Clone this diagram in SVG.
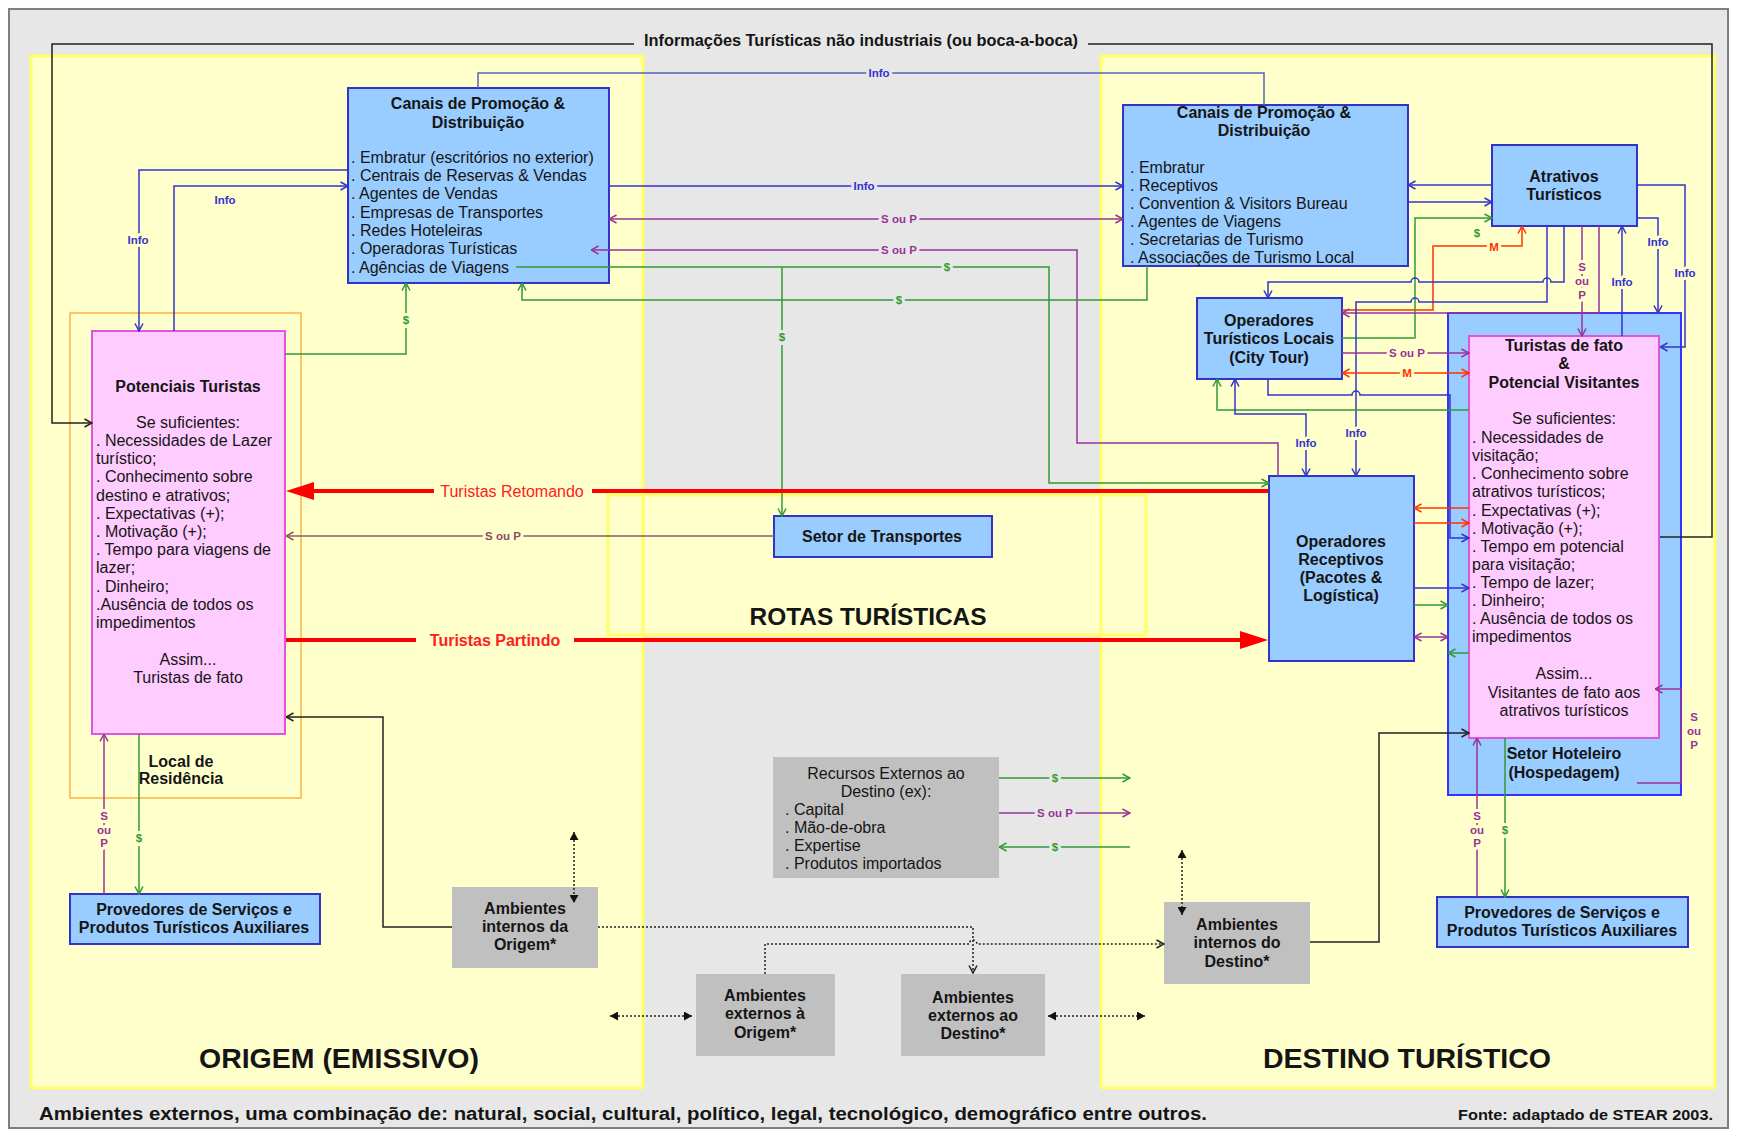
<svg xmlns="http://www.w3.org/2000/svg" width="1737" height="1134" viewBox="0 0 1737 1134">
<style>
.t{font-family:"Liberation Sans",Arial,sans-serif;font-size:16px;fill:#151515}
.b{font-weight:bold}
.m{text-anchor:middle}
.lb{font-family:"Liberation Sans",Arial,sans-serif;font-size:11.5px;font-weight:bold;text-anchor:middle;paint-order:stroke;stroke-width:6;stroke-linejoin:round}
.ly{stroke:#ffffcc}.lg{stroke:#e7e7e7}
.ci{fill:#3333cc}.cg{fill:#339933}.cp{fill:#993399}.cr{fill:#ff3300}
.c{fill:none;stroke-width:1.5}
.bl{stroke:#3333cc}.gr{stroke:#339933}.pu{stroke:#993399}.rd{stroke:#ff3300}.k{stroke:#222}.br{stroke:#8a5a6a}
.d{fill:none;stroke:#222;stroke-width:1.5;stroke-dasharray:2 2}
.blue{fill:#99ccff;stroke:#3333cc;stroke-width:2}
.pink{fill:#ffccff;stroke:#e055e0;stroke-width:2}
.gray{fill:#c0c0c0}
.yel{fill:#ffffcc}
.yb{fill:none;stroke:#ffff66;stroke-width:3}
</style>
<defs>
<marker id="mb" viewBox="0 0 9 10" refX="8.5" refY="5" markerWidth="9" markerHeight="10" markerUnits="userSpaceOnUse" orient="auto-start-reverse"><path d="M1,1 L8.5,5 L1,9" fill="none" stroke="#3333cc" stroke-width="1.5"/></marker>
<marker id="mg" viewBox="0 0 9 10" refX="8.5" refY="5" markerWidth="9" markerHeight="10" markerUnits="userSpaceOnUse" orient="auto-start-reverse"><path d="M1,1 L8.5,5 L1,9" fill="none" stroke="#339933" stroke-width="1.5"/></marker>
<marker id="mp" viewBox="0 0 9 10" refX="8.5" refY="5" markerWidth="9" markerHeight="10" markerUnits="userSpaceOnUse" orient="auto-start-reverse"><path d="M1,1 L8.5,5 L1,9" fill="none" stroke="#993399" stroke-width="1.5"/></marker>
<marker id="mr" viewBox="0 0 9 10" refX="8.5" refY="5" markerWidth="9" markerHeight="10" markerUnits="userSpaceOnUse" orient="auto-start-reverse"><path d="M1,1 L8.5,5 L1,9" fill="none" stroke="#ff3300" stroke-width="1.5"/></marker>
<marker id="mk" viewBox="0 0 9 10" refX="8.5" refY="5" markerWidth="9" markerHeight="10" markerUnits="userSpaceOnUse" orient="auto-start-reverse"><path d="M1,1 L8.5,5 L1,9" fill="none" stroke="#222" stroke-width="1.5"/></marker>
<marker id="mn" viewBox="0 0 9 10" refX="8.5" refY="5" markerWidth="9" markerHeight="10" markerUnits="userSpaceOnUse" orient="auto-start-reverse"><path d="M1,1 L8.5,5 L1,9" fill="none" stroke="#8a5a6a" stroke-width="1.5"/></marker>
<marker id="mf" viewBox="0 0 8 9" refX="8" refY="4.5" markerWidth="8" markerHeight="9" markerUnits="userSpaceOnUse" orient="auto-start-reverse"><path d="M0,0 L8,4.5 L0,9Z" fill="#111"/></marker>
</defs>
<rect x="0" y="0" width="1737" height="1134" fill="#ffffff"/>
<rect x="9" y="9" width="1719" height="1119" fill="#e7e7e7" stroke="#7f7f7f" stroke-width="2"/>

<g id="regions">
<rect class="yel" x="31" y="56" width="612" height="1032"/>
<rect class="yel" x="1101" y="56" width="614" height="1032"/>
<rect class="yel" x="608" y="495" width="538" height="140"/>
<rect class="yb" x="31" y="56" width="612" height="1032"/>
<rect class="yb" x="1101" y="56" width="614" height="1032"/>
<rect class="yb" x="608" y="495" width="538" height="140" stroke-width="1.5"/>
<text class="t b m" x="868" y="625" style="font-size:24px" textLength="237" lengthAdjust="spacingAndGlyphs">ROTAS TURÍSTICAS</text>
<text class="t b m" x="339" y="1068" style="font-size:28px" textLength="280" lengthAdjust="spacingAndGlyphs">ORIGEM (EMISSIVO)</text>
<text class="t b m" x="1407" y="1068" style="font-size:28px" textLength="288" lengthAdjust="spacingAndGlyphs">DESTINO TURÍSTICO</text>
<text class="t b" x="39" y="1120" style="font-size:18px" textLength="1168" lengthAdjust="spacingAndGlyphs">Ambientes externos, uma combinação de: natural, social, cultural, político, legal, tecnológico, demográfico entre outros.</text>
<text class="t b" x="1458" y="1120" style="font-size:15px" textLength="255" lengthAdjust="spacingAndGlyphs">Fonte: adaptado de STEAR 2003.</text>
<text class="t b m" x="861" y="46" style="font-size:16px" textLength="434" lengthAdjust="spacingAndGlyphs">Informações Turísticas não industriais (ou boca-a-boca)</text>
</g>

<g id="local-residencia">
<rect x="70" y="313" width="231" height="485" fill="none" stroke="#ffb040" stroke-width="1.5"/>
<text class="t b m" x="181" y="767">Local de</text>
<text class="t b m" x="181" y="784">Residência</text>
</g>

<g id="canais-origem">
<rect class="blue" x="348" y="88" width="261" height="195"/>
<text class="t b m" x="478" y="109">Canais de Promoção &amp;</text>
<text class="t b m" x="478" y="128">Distribuição</text>
<text class="t" x="351" y="163">. Embratur (escritórios no exterior)</text>
<text class="t" x="351" y="181">. Centrais de Reservas &amp; Vendas</text>
<text class="t" x="351" y="199">. Agentes de Vendas</text>
<text class="t" x="351" y="218">. Empresas de Transportes</text>
<text class="t" x="351" y="236">. Redes Hoteleiras</text>
<text class="t" x="351" y="254">. Operadoras Turísticas</text>
<text class="t" x="351" y="273">. Agências de Viagens</text>
</g>

<g id="potenciais-turistas">
<rect class="pink" x="92" y="331" width="193" height="403"/>
<text class="t b m" x="188" y="392">Potenciais Turistas</text>
<text class="t m" x="188" y="428">Se suficientes:</text>
<text class="t" x="96" y="446">. Necessidades de Lazer</text>
<text class="t" x="96" y="464">turístico;</text>
<text class="t" x="96" y="482">. Conhecimento sobre</text>
<text class="t" x="96" y="501">destino e atrativos;</text>
<text class="t" x="96" y="519">. Expectativas (+);</text>
<text class="t" x="96" y="537">. Motivação (+);</text>
<text class="t" x="96" y="555">. Tempo para viagens de</text>
<text class="t" x="96" y="573">lazer;</text>
<text class="t" x="96" y="592">. Dinheiro;</text>
<text class="t" x="96" y="610">.Ausência de todos os</text>
<text class="t" x="96" y="628">impedimentos</text>
<text class="t m" x="188" y="665">Assim...</text>
<text class="t m" x="188" y="683">Turistas de fato</text>
</g>

<g id="provedores-origem">
<rect class="blue" x="70" y="894" width="250" height="50"/>
<text class="t b m" x="194" y="915">Provedores de Serviços e</text>
<text class="t b m" x="194" y="933">Produtos Turísticos Auxiliares</text>
</g>

<g id="setor-transportes">
<rect class="blue" x="774" y="516" width="218" height="41"/>
<text class="t b m" x="882" y="542">Setor de Transportes</text>
</g>

<g id="recursos-externos">
<rect class="gray" x="773" y="757" width="226" height="121"/>
<text class="t m" x="886" y="779">Recursos Externos ao</text>
<text class="t m" x="886" y="797">Destino (ex):</text>
<text class="t" x="785" y="815">. Capital</text>
<text class="t" x="785" y="833">. Mão-de-obra</text>
<text class="t" x="785" y="851">. Expertise</text>
<text class="t" x="785" y="869">. Produtos importados</text>
</g>

<g id="amb-internos-origem">
<rect class="gray" x="452" y="887" width="146" height="81"/>
<text class="t b m" x="525" y="914">Ambientes</text>
<text class="t b m" x="525" y="932">internos da</text>
<text class="t b m" x="525" y="950">Origem*</text>
</g>

<g id="amb-externos-origem">
<rect class="gray" x="696" y="974" width="139" height="82"/>
<text class="t b m" x="765" y="1001">Ambientes</text>
<text class="t b m" x="765" y="1019">externos à</text>
<text class="t b m" x="765" y="1038">Origem*</text>
</g>

<g id="amb-externos-destino">
<rect class="gray" x="901" y="974" width="144" height="82"/>
<text class="t b m" x="973" y="1003">Ambientes</text>
<text class="t b m" x="973" y="1021">externos ao</text>
<text class="t b m" x="973" y="1039">Destino*</text>
</g>

<g id="amb-internos-destino">
<rect class="gray" x="1164" y="902" width="146" height="82"/>
<text class="t b m" x="1237" y="930">Ambientes</text>
<text class="t b m" x="1237" y="948">internos do</text>
<text class="t b m" x="1237" y="967">Destino*</text>
</g>

<g id="canais-destino">
<rect class="blue" x="1123" y="105" width="285" height="161"/>
<text class="t b m" x="1264" y="118">Canais de Promoção &amp;</text>
<text class="t b m" x="1264" y="136">Distribuição</text>
<text class="t" x="1130" y="173">. Embratur</text>
<text class="t" x="1130" y="191">. Receptivos</text>
<text class="t" x="1130" y="209">. Convention &amp; Visitors Bureau</text>
<text class="t" x="1130" y="227">. Agentes de Viagens</text>
<text class="t" x="1130" y="245">. Secretarias de Turismo</text>
<text class="t" x="1130" y="263">. Associações de Turismo Local</text>
</g>

<g id="atrativos">
<rect class="blue" x="1492" y="145" width="145" height="81"/>
<text class="t b m" x="1564" y="182">Atrativos</text>
<text class="t b m" x="1564" y="200">Turísticos</text>
</g>

<g id="operadores-locais">
<rect class="blue" x="1197" y="298" width="145" height="81"/>
<text class="t b m" x="1269" y="326">Operadores</text>
<text class="t b m" x="1269" y="344">Turísticos Locais</text>
<text class="t b m" x="1269" y="363">(City Tour)</text>
</g>

<g id="operadores-receptivos">
<rect class="blue" x="1269" y="476" width="145" height="185"/>
<text class="t b m" x="1341" y="547">Operadores</text>
<text class="t b m" x="1341" y="565">Receptivos</text>
<text class="t b m" x="1341" y="583">(Pacotes &amp;</text>
<text class="t b m" x="1341" y="601">Logística)</text>
</g>

<g id="setor-hoteleiro">
<rect x="1448" y="313" width="233" height="482" fill="#99ccff" stroke="#3333ff" stroke-width="2"/>
<text class="t b m" x="1564" y="759">Setor Hoteleiro</text>
<text class="t b m" x="1564" y="778">(Hospedagem)</text>
</g>

<g id="turistas-de-fato">
<rect class="pink" x="1469" y="336" width="190" height="402"/>
<text class="t b m" x="1564" y="351">Turistas de fato</text>
<text class="t b m" x="1564" y="369">&amp;</text>
<text class="t b m" x="1564" y="388">Potencial Visitantes</text>
<text class="t m" x="1564" y="424">Se suficientes:</text>
<text class="t" x="1472" y="443">. Necessidades de</text>
<text class="t" x="1472" y="461">visitação;</text>
<text class="t" x="1472" y="479">. Conhecimento sobre</text>
<text class="t" x="1472" y="497">atrativos turísticos;</text>
<text class="t" x="1472" y="516">. Expectativas (+);</text>
<text class="t" x="1472" y="534">. Motivação (+);</text>
<text class="t" x="1472" y="552">. Tempo em potencial</text>
<text class="t" x="1472" y="570">para visitação;</text>
<text class="t" x="1472" y="588">. Tempo de lazer;</text>
<text class="t" x="1472" y="606">. Dinheiro;</text>
<text class="t" x="1472" y="624">. Ausência de todos os</text>
<text class="t" x="1472" y="642">impedimentos</text>
<text class="t m" x="1564" y="679">Assim...</text>
<text class="t m" x="1564" y="698">Visitantes de fato aos</text>
<text class="t m" x="1564" y="716">atrativos turísticos</text>
</g>

<g id="provedores-destino">
<rect class="blue" x="1437" y="897" width="251" height="50"/>
<text class="t b m" x="1562" y="918">Provedores de Serviços e</text>
<text class="t b m" x="1562" y="936">Produtos Turísticos Auxiliares</text>
</g>

<g id="connectors">
<path class="c k" d="M634,44 H52 V423 H92" marker-end="url(#mk)"/>
<path class="c k" d="M1088,44 H1712 V537 H1660"/>
<path class="c k" d="M452,927 H383 V717 H286" marker-end="url(#mk)"/>
<path class="c k" d="M1310,942 H1379 V733 H1469" marker-end="url(#mk)"/>
<path class="c" stroke="#5a64b4" stroke-width="1.2" d="M478,88 V73 H1264 V105"/>
<text class="lb lg ci" x="879" y="77">Info</text>
<path class="c bl" d="M348,170 H139 V331" marker-end="url(#mb)"/>
<path class="c bl" d="M174,331 V186 H348" marker-end="url(#mb)"/>
<text class="lb ly ci" x="138" y="244">Info</text>
<text class="lb ly ci" x="225" y="204">Info</text>
<path class="c bl" d="M609,186 H1123" marker-end="url(#mb)"/>
<text class="lb lg ci" x="864" y="190">Info</text>
<path class="c pu" d="M609,219 H1123" marker-start="url(#mp)" marker-end="url(#mp)"/>
<text class="lb lg cp" x="899" y="223">S ou P</text>
<path class="c pu" d="M1278,476 V443 H1077 V250 H591" marker-end="url(#mp)"/>
<text class="lb lg cp" x="899" y="254">S ou P</text>
<path class="c gr" d="M516,267 H1049 V483 H1269" marker-end="url(#mg)"/>
<text class="lb lg cg" x="947" y="271">$</text>
<path class="c gr" d="M782,267 V516" marker-end="url(#mg)"/>
<text class="lb lg cg" x="782" y="341">$</text>
<path class="c gr" d="M1147,266 V300 H522 V283" marker-end="url(#mg)"/>
<text class="lb lg cg" x="899" y="304">$</text>
<path class="c gr" d="M285,354 H406 V283" marker-end="url(#mg)"/>
<text class="lb ly cg" x="406" y="324">$</text>
<path class="c br" d="M774,536 H286" marker-end="url(#mn)"/>
<text class="lb ly" style="fill:#8a4a6a" x="503" y="540">S ou P</text>
<path d="M313,491 H1268" fill="none" stroke="#ff0000" stroke-width="4"/>
<polygon points="286,491 314,482 314,500" fill="#ff0000"/>
<rect x="434" y="482" width="158" height="18" fill="#ffffcc"/>
<text class="t m" x="512" y="497" style="fill:#ff2020">Turistas Retomando</text>
<path d="M286,640 H1240" fill="none" stroke="#ff0000" stroke-width="4"/>
<polygon points="1268,640 1240,631 1240,649" fill="#ff0000"/>
<rect x="416" y="631" width="158" height="18" fill="#ffffcc"/>
<text class="t b m" x="495" y="646" style="fill:#ff2020">Turistas Partindo</text>
<path class="c pu" d="M104,894 V734" marker-end="url(#mp)"/>
<text class="lb ly cp" x="104" y="820">S</text>
<text class="lb ly cp" x="104" y="834">ou</text>
<text class="lb ly cp" x="104" y="847">P</text>
<path class="c gr" d="M139,734 V894" marker-end="url(#mg)"/>
<text class="lb ly cg" x="139" y="842">$</text>
<path class="c gr" d="M999,778 H1130" marker-end="url(#mg)"/>
<text class="lb lg cg" x="1055" y="782">$</text>
<path class="c pu" d="M999,813 H1130" marker-end="url(#mp)"/>
<text class="lb lg cp" x="1055" y="817">S ou P</text>
<path class="c gr" d="M1130,847 H999" marker-end="url(#mg)"/>
<text class="lb lg cg" x="1055" y="851">$</text>
<path class="d" d="M574,832 V903" marker-start="url(#mf)" marker-end="url(#mf)"/>
<path class="d" d="M1182,850 V915" marker-start="url(#mf)" marker-end="url(#mf)"/>
<path class="d" d="M610,1016 H692" marker-start="url(#mf)" marker-end="url(#mf)"/>
<path class="d" d="M1048,1016 H1145" marker-start="url(#mf)" marker-end="url(#mf)"/>
<path class="d" d="M598,927 H973 V973" marker-end="url(#mk)"/>
<path class="d" d="M765,974 V944 H969 a4,4 0 0 1 8,0 H1164" marker-end="url(#mk)"/>
<path class="c bl" d="M1492,185 H1408" marker-end="url(#mb)"/>
<path class="c bl" d="M1408,202 H1492" marker-end="url(#mb)"/>
<path class="c gr" d="M1342,338 H1415 V218 H1492" marker-end="url(#mg)"/>
<text class="lb cg" x="1477" y="237">$</text>
<path class="c rd" d="M1342,310 H1433 V246 H1522 V226" marker-end="url(#mr)"/>
<text class="lb ly cr" x="1494" y="251">M</text>
<path class="c pu" d="M1599,226 V313 H1342" marker-end="url(#mp)"/>
<path class="c bl" d="M1564,226 V282 H1551 a4,4 0 0 0 -8,0 H1419 a4,4 0 0 0 -8,0 H1268 V298" marker-end="url(#mb)"/>
<path class="c bl" d="M1547,226 V302 H1419 a4,4 0 0 0 -8,0 H1356 V476" marker-end="url(#mb)"/>
<text class="lb ly ci" x="1356" y="437">Info</text>
<path class="c pu" d="M1582,226 V336" marker-end="url(#mp)"/>
<text class="lb ly cp" x="1582" y="271">S</text>
<text class="lb ly cp" x="1582" y="285">ou</text>
<text class="lb ly cp" x="1582" y="299">P</text>
<path class="c bl" d="M1622,336 V226" marker-end="url(#mb)"/>
<text class="lb ly ci" x="1622" y="286">Info</text>
<path class="c bl" d="M1637,218 H1658 V313" marker-end="url(#mb)"/>
<text class="lb ly ci" x="1658" y="246">Info</text>
<path class="c bl" d="M1637,185 H1685 V347 H1660" marker-end="url(#mb)"/>
<text class="lb ly ci" x="1685" y="277">Info</text>
<path class="c pu" d="M1342,353 H1469" marker-end="url(#mp)"/>
<text class="lb ly cp" x="1407" y="357">S ou P</text>
<path class="c rd" d="M1342,373 H1469" marker-start="url(#mr)" marker-end="url(#mr)"/>
<text class="lb ly cr" x="1407" y="377">M</text>
<path class="c bl" d="M1268,379 V395 H1352 a4,4 0 0 1 8,0 H1450 V538 H1469" marker-end="url(#mb)"/>
<path class="c gr" d="M1469,410 H1217 V379" marker-end="url(#mg)"/>
<path class="c bl" d="M1306,476 V414 H1235 V379" marker-start="url(#mb)" marker-end="url(#mb)"/>
<text class="lb ly ci" x="1306" y="447">Info</text>
<path class="c rd" d="M1469,508 H1414" marker-end="url(#mr)"/>
<path class="c rd" d="M1414,523 H1469" marker-end="url(#mr)"/>
<path class="c bl" stroke-width="2" d="M1414,588 H1469" marker-end="url(#mb)"/>
<path class="c gr" d="M1414,605 H1448" marker-end="url(#mg)"/>
<path class="c pu" d="M1414,637 H1448" marker-start="url(#mp)" marker-end="url(#mp)"/>
<path class="c gr" d="M1469,653 H1448" marker-end="url(#mg)"/>
<path class="c pu" d="M1637,783 H1681 V689 H1655" marker-end="url(#mp)"/>
<text class="lb cp" x="1694" y="721">S</text>
<text class="lb cp" x="1694" y="735">ou</text>
<text class="lb cp" x="1694" y="749">P</text>
<path class="c pu" d="M1477,897 V738" marker-end="url(#mp)"/>
<text class="lb ly cp" x="1477" y="820">S</text>
<text class="lb ly cp" x="1477" y="834">ou</text>
<text class="lb ly cp" x="1477" y="847">P</text>
<path class="c gr" d="M1505,738 V897" marker-end="url(#mg)"/>
<text class="lb ly cg" x="1505" y="834">$</text>
</g>
</svg>
